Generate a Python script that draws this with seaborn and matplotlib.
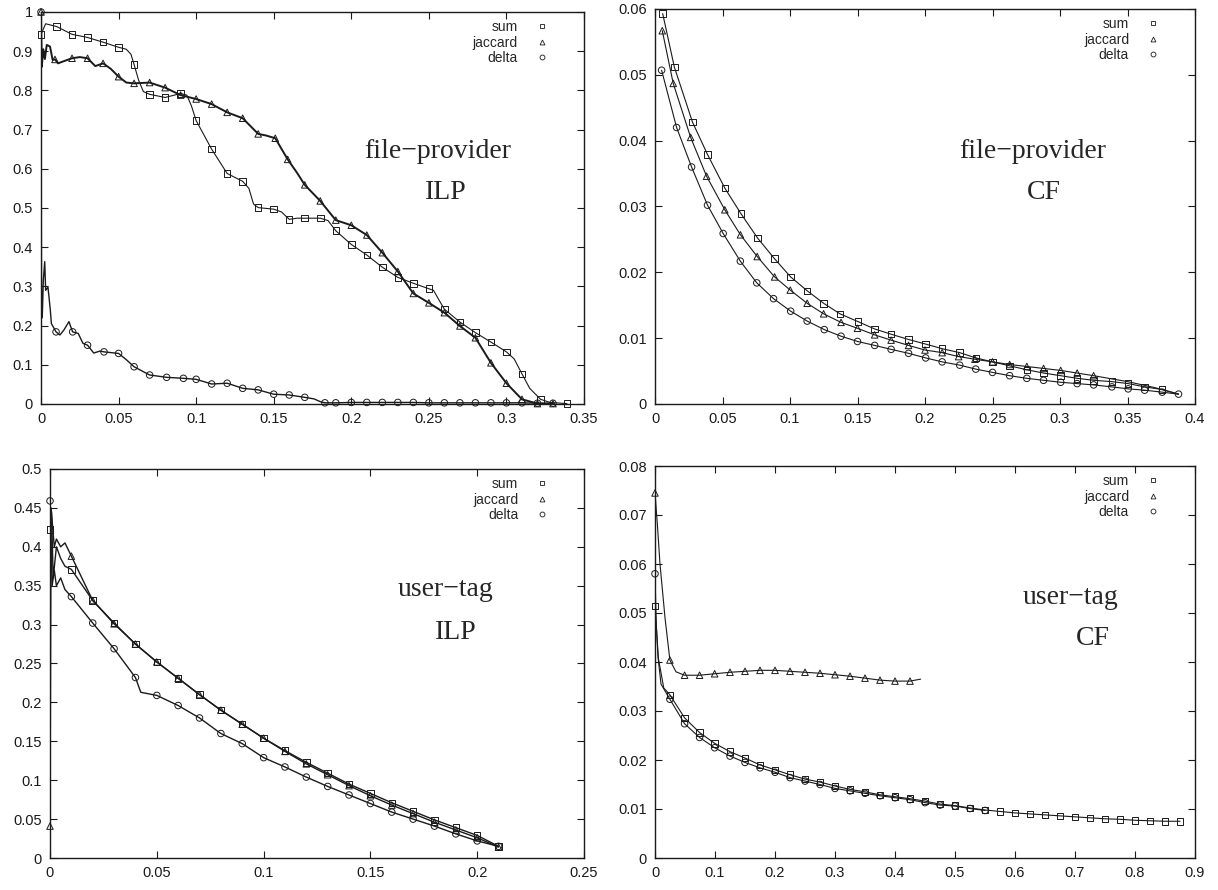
import matplotlib
matplotlib.use("Agg")
import matplotlib.pyplot as plt
from matplotlib.lines import Line2D
from matplotlib.ticker import MultipleLocator, FuncFormatter
import seaborn as sns

# ---------------- file-provider / ILP (marker points + extra line points)
fp_ilp_sum_x = [0, .01, .02, .03, .04, .05, .06, .07, .08, .09, .10, .11, .12, .13, .14, .15, .16,
                .17, .18, .19, .20, .21, .22, .23, .24, .25, .26, .27, .28, .29, .30, .31, .322, .339]
fp_ilp_sum_y = [.943, .963, .943, .935, .923, .910, .866, .790, .782, .792, .723, .650, .588, .568, .501,
                .497, .471, .474, .474, .442, .407, .380, .349, .323, .308, .294, .242, .209, .182, .158,
                .133, .077, .012, .001]
fp_ilp_sum_ex = [.003, .005, .055, .058, .063, .066, .094, .097, .134, .137, .155, .165, .185, .253, .257,
                 .305, .315, .328]
fp_ilp_sum_ey = [.970, .968, .905, .892, .825, .797, .788, .760, .550, .510, .490, .474, .468, .290, .262,
                 .115, .040, .004]

fp_ilp_jac_x = [0, .009, .02, .03, .04, .05, .06, .07, .08, .09, .10, .11, .12, .13, .14, .151, .159, .17,
                .18, .19, .20, .21, .22, .23, .24, .25, .26, .27, .28, .29, .30, .31, .32, .33]
fp_ilp_jac_y = [1.0, .879, .882, .882, .869, .835, .818, .820, .807, .788, .778, .765, .744, .729, .689,
                .678, .624, .559, .518, .469, .456, .431, .386, .338, .282, .258, .233, .199, .169, .105,
                .053, .012, .001, .001]
fp_ilp_jac_ex = [.0005, .0015, .0025, .0037, .0058, .0075, .011, .015, .025, .035, .045, .055, .145, .165]
fp_ilp_jac_ey = [.860, .905, .880, .916, .912, .878, .869, .875, .885, .862, .855, .820, .685, .590]

fp_ilp_del_x = [0, .0097, .0204, .03, .0406, .05, .06, .07, .081, .0918, .10, .11, .12, .13, .14, .15, .16,
                .17, .183, .19, .20, .21, .22, .23, .24, .25, .26, .27, .28, .29, .30, .31, .32, .33]
fp_ilp_del_y = [1.0, .184, .184, .150, .133, .129, .095, .074, .068, .0655, .063, .051, .053, .040, .036,
                .025, .023, .017, .003, .003, .004, .004, .004, .004, .004, .003, .003, .003, .003, .003,
                .003, .003, .002, .002]
fp_ilp_del_ex = [.0003, .0008, .0015, .0024, .003, .0045, .006, .0067, .0122, .0148, .018, .024, .027,
                 .034, .038, .055, .176, .180]
fp_ilp_del_ey = [.300, .220, .316, .363, .290, .298, .240, .205, .176, .189, .210, .180, .155, .130, .135,
                 .113, .013, .006]

# ---------------- file-provider / CF
fp_cf_sum_x = [.0057, .0143, .0278, .0389, .0517, .0637, .0760, .0884, .1005, .1127, .1249, .137, .1505,
               .1627, .1749, .1878, .2005, .2127, .2257, .2376, .25, .2627, .2754, .2878, .3005, .3127,
               .3249, .3384, .3505, .3627, .3757]
fp_cf_sum_y = [.0593, .0512, .0428, .0379, .0328, .0289, .0252, .0221, .0193, .0172, .0153, .0137, .0125,
               .0114, .0106, .0098, .0091, .0084, .0078, .0070, .0064, .0058, .0052, .0047, .0043, .0039,
               .0036, .0034, .0031, .0026, .0022]
fp_cf_sum_ex = [.3878]
fp_cf_sum_ey = [.0015]

fp_cf_jac_x = [.0054, .0135, .0264, .0382, .0517, .0633, .0757, .0886, .1002, .1127, .1249, .1378, .15,
               .1627, .1749, .1878, .2, .2127, .2249, .2370, .25, .2627, .2754, .2878, .3005, .3127, .3249]
fp_cf_jac_y = [.0567, .0487, .0405, .0346, .0295, .0257, .0224, .0193, .0173, .0153, .0137, .0124, .0115,
               .0105, .0097, .0089, .0082, .0078, .0072, .0068, .0064, .0060, .0057, .0054, .0051, .0047,
               .0043]
fp_cf_jac_ex = [.3500, .3700, .3878]
fp_cf_jac_ey = [.0034, .0025, .0015]

fp_cf_del_x = [.0049, .016, .0271, .0389, .0505, .0632, .0754, .0878, .1005, .1127, .1254, .1378, .15,
               .1627, .1749, .1878, .2005, .2127, .2257, .2376, .25, .2627, .2754, .2878, .3005, .3127,
               .3249, .3384, .3505, .3627, .3757, .3878]
fp_cf_del_y = [.0507, .0420, .0360, .0302, .0259, .0217, .0184, .0160, .0141, .0126, .0113, .0103, .0095,
               .0089, .0083, .0077, .0070, .0064, .0059, .0053, .0048, .0043, .0039, .0036, .0033, .0031,
               .0029, .0026, .0023, .0021, .0018, .0015]
fp_cf_del_ex = []
fp_cf_del_ey = []

# ---------------- user-tag / ILP
ut_ilp_x = [0, .01, .02, .03, .04, .05, .06, .07, .08, .09, .10, .11, .12, .13, .14, .15, .16, .17, .18,
            .19, .20, .21]
ut_ilp_sum_y = [.422, .371, .331, .302, .275, .252, .231, .210, .190, .172, .154, .138, .123, .109, .095,
                .083, .071, .060, .049, .039, .029, .015]
ut_ilp_sum_ex = [.0007, .0015, .003, .005, .007]
ut_ilp_sum_ey = [.445, .360, .400, .385, .375]
ut_ilp_jac_y = [.041, .388, .331, .301, .275, .252, .231, .210, .190, .172, .154, .137, .121, .107, .093,
                .080, .068, .057, .046, .036, .026, .014]
ut_ilp_jac_ex = [.0005, .002, .003, .005, .007]
ut_ilp_jac_ey = [.450, .400, .410, .400, .405]
ut_ilp_del_y = [.459, .336, .302, .269, .232, .209, .196, .180, .160, .147, .129, .117, .104, .092, .081,
                .070, .059, .050, .041, .031, .022, .015]
ut_ilp_del_ex = [.001, .002, .003, .005, .007, .0425]
ut_ilp_del_ey = [.350, .370, .350, .360, .345, .213]

# ---------------- user-tag / CF
ut_cf_x = [0, .0248, .0493, .0743, .0994, .125, .150, .175, .2, .225, .25, .275, .3, .325, .35, .375, .4,
           .425, .45, .475, .5, .525, .55, .575, .6, .625, .65, .675, .7, .725, .75, .775, .8, .825, .85,
           .875]
ut_cf_sum_y = [.0514, .0333, .0286, .0256, .0234, .0217, .0204, .0190, .0180, .0170, .0161, .0155, .0147,
               .0140, .0135, .0129, .0125, .0121, .0116, .0110, .0107, .0102, .0098, .0095, .0092, .0090,
               .0088, .0086, .0084, .0082, .0080, .0079, .0077, .0076, .0075, .0075]
ut_cf_sum_ex = [.0057, .0146]
ut_cf_sum_ey = [.0407, .0347]
ut_cf_jac_n = 18
ut_cf_jac_y = [.0745, .0404, .0373, .0373, .0376, .0379, .0381, .0383, .0383, .0381, .0379, .0377, .0374,
               .0371, .0367, .0363, .0361, .0361]
ut_cf_jac_ex = [.004, .0083, .0167, .035, .4427]
ut_cf_jac_ey = [.0680, .0600, .0490, .0380, .0365]
ut_cf_del_n = 23
ut_cf_del_y = [.0580, .0324, .0274, .0246, .0225, .0208, .0195, .0184, .0175, .0164, .0157, .0150, .0142,
               .0137, .0132, .0127, .0123, .0119, .0113, .0108, .0106, .0101, .0097]
ut_cf_del_ex = [.002, .005, .010]
ut_cf_del_ey = [.0480, .0410, .0355]

names = ["sum", "jaccard", "delta"]
marks = ["s", "^", "o"]

sns.set_theme(style="ticks")
plt.rcParams["font.family"] = ["Liberation Sans", "DejaVu Sans"]
plt.rcParams["axes.linewidth"] = 1.0


def draw_series(ax, mx, my, ex, ey, marker, lw):
    pts = sorted(zip(list(mx) + list(ex), list(my) + list(ey)))
    sns.lineplot(x=[p[0] for p in pts], y=[p[1] for p in pts], ax=ax, color="k", lw=lw,
                 estimator=None, sort=False)
    sns.scatterplot(x=mx, y=my, ax=ax, marker=marker, s=22, color="k", facecolor="none",
                    edgecolor="k", linewidth=0.7, clip_on=False, zorder=3)


def style_axes(ax, xmax, xstep, ymax, ystep, line1, line2, pos1, pos2):
    ax.set_xlim(0, xmax)
    ax.set_ylim(0, ymax)
    ax.xaxis.set_major_locator(MultipleLocator(xstep))
    ax.yaxis.set_major_locator(MultipleLocator(ystep))
    fmt = FuncFormatter(lambda v, p: "%g" % round(v, 6))
    ax.xaxis.set_major_formatter(fmt)
    ax.yaxis.set_major_formatter(fmt)
    ax.tick_params(direction="in", top=True, right=True, length=5, width=0.8,
                   labelsize=10.5, pad=6, colors="k")
    for s in ax.spines.values():
        s.set_visible(True)
        s.set_color("k")
    ax.set_xlabel("")
    ax.set_ylabel("")
    handles = [Line2D([], [], ls="none", marker=m, mfc="none", mec="k", ms=3.5, mew=0.6)
               for m in marks]
    ax.legend(handles, names, loc="upper right", bbox_to_anchor=(0.95, 1.0), markerfirst=False,
              frameon=False, fontsize=10, handlelength=1.0, handletextpad=1.2, labelspacing=0.1,
              borderaxespad=0.2)
    ax.text(pos1[0], pos1[1], line1, transform=ax.transAxes, ha="center", va="center",
            family="Liberation Serif", fontsize=20)
    ax.text(pos2[0], pos2[1], line2, transform=ax.transAxes, ha="center", va="center",
            family="Liberation Serif", fontsize=20)


fig = plt.figure(figsize=(12.18, 8.90), dpi=100)
W, H = 1218.0, 890.0


def add_ax(l, t, r, b):
    return fig.add_axes([l / W, 1 - b / H, (r - l) / W, (b - t) / H])


ax1 = add_ax(41, 12, 584, 404)
ax2 = add_ax(655, 9, 1195, 404)
ax3 = add_ax(50, 469, 584, 858)
ax4 = add_ax(655, 466, 1195, 858)

draw_series(ax1, fp_ilp_sum_x, fp_ilp_sum_y, fp_ilp_sum_ex, fp_ilp_sum_ey, "s", 0.8)
draw_series(ax1, fp_ilp_jac_x, fp_ilp_jac_y, fp_ilp_jac_ex, fp_ilp_jac_ey, "^", 1.4)
draw_series(ax1, fp_ilp_del_x, fp_ilp_del_y, fp_ilp_del_ex, fp_ilp_del_ey, "o", 1.0)
style_axes(ax1, 0.35, 0.05, 1.0, 0.1, "file\u2212provider", "ILP", (0.73, 0.645), (0.745, 0.54))

draw_series(ax2, fp_cf_sum_x, fp_cf_sum_y, fp_cf_sum_ex, fp_cf_sum_ey, "s", 0.8)
draw_series(ax2, fp_cf_jac_x, fp_cf_jac_y, fp_cf_jac_ex, fp_cf_jac_ey, "^", 0.8)
draw_series(ax2, fp_cf_del_x, fp_cf_del_y, fp_cf_del_ex, fp_cf_del_ey, "o", 0.8)
style_axes(ax2, 0.4, 0.05, 0.06, 0.01, "file\u2212provider", "CF", (0.70, 0.64), (0.72, 0.535))

draw_series(ax3, ut_ilp_x, ut_ilp_sum_y, ut_ilp_sum_ex, ut_ilp_sum_ey, "s", 1.0)
draw_series(ax3, ut_ilp_x, ut_ilp_jac_y, ut_ilp_jac_ex, ut_ilp_jac_ey, "^", 1.0)
draw_series(ax3, ut_ilp_x, ut_ilp_del_y, ut_ilp_del_ex, ut_ilp_del_ey, "o", 1.0)
style_axes(ax3, 0.25, 0.05, 0.5, 0.05, "user\u2212tag", "ILP", (0.74, 0.69), (0.76, 0.58))

draw_series(ax4, ut_cf_x, ut_cf_sum_y, ut_cf_sum_ex, ut_cf_sum_ey, "s", 0.8)
draw_series(ax4, ut_cf_x[:ut_cf_jac_n], ut_cf_jac_y, ut_cf_jac_ex, ut_cf_jac_ey, "^", 0.8)
draw_series(ax4, ut_cf_x[:ut_cf_del_n], ut_cf_del_y, ut_cf_del_ex, ut_cf_del_ey, "o", 0.8)
style_axes(ax4, 0.9, 0.1, 0.08, 0.01, "user\u2212tag", "CF", (0.77, 0.665), (0.81, 0.56))

fig.savefig("out.png", dpi=100)
